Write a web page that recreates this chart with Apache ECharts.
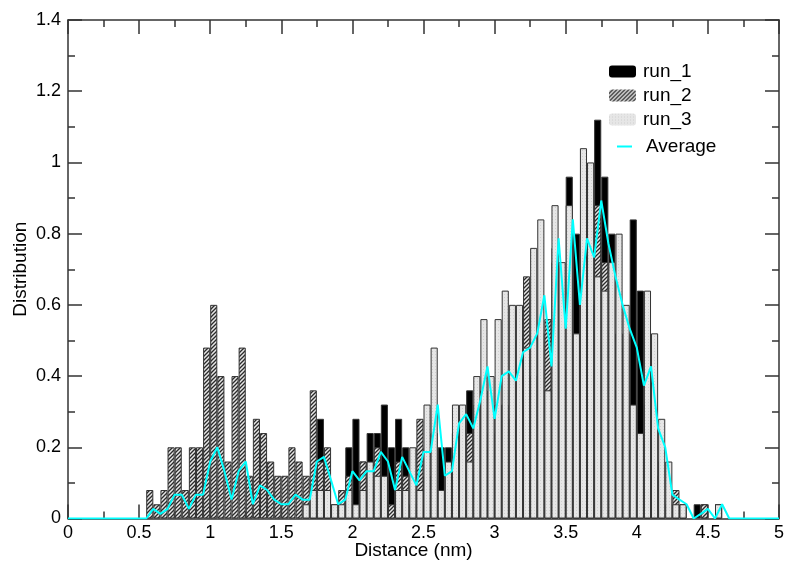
<!DOCTYPE html>
<html>
<head>
<meta charset="utf-8">
<script src="https://cdn.jsdelivr.net/npm/echarts@6/dist/echarts.min.js"></script>
<style>
  html, body { margin: 0; padding: 0; background: #fff; }
  #chart { width: 786px; height: 564px; }
</style>
</head>
<body>
<div id="chart"></div>
<script>
// Histogram bins: bin k covers [k*0.05, (k+1)*0.05], 100 bins from 0 to 5 nm
const binWidth = 0.05;

const run1 = [
  0, 0, 0, 0, 0, 0, 0, 0, 0, 0,
  0, 0, 0, 0, 0, 0, 0, 0, 0, 0,
  0, 0, 0, 0, 0, 0, 0, 0, 0, 0,
  0, 0, 0, 0, 0.04, 0.28, 0.04, 0.04, 0.04, 0.2,
  0.28, 0.16, 0.24, 0.24, 0.32, 0.2, 0.28, 0.2, 0.04, 0.2,
  0.12, 0.24, 0.2, 0.2, 0.24, 0.28, 0.36, 0.32, 0.36, 0.2,
  0.32, 0.28, 0.28, 0.4, 0.28, 0.4, 0.52, 0.36, 0.76, 0.44,
  0.96, 0.8, 0.68, 0.6, 1.12, 0.96, 0.8, 0.52, 0.52, 0.84,
  0.64, 0.32, 0.12, 0.16, 0, 0.04, 0.04, 0, 0.04, 0.04,
  0, 0.04, 0, 0, 0, 0, 0, 0, 0, 0
];

const run2 = [
  0, 0, 0, 0, 0, 0, 0, 0, 0, 0,
  0, 0.08, 0.04, 0.08, 0.2, 0.2, 0.08, 0.2, 0.2, 0.48,
  0.6, 0.4, 0.16, 0.4, 0.48, 0.12, 0.28, 0.24, 0.16, 0.12,
  0.12, 0.2, 0.16, 0.12, 0.36, 0.16, 0.2, 0.04, 0.08, 0.12,
  0, 0.16, 0, 0.2, 0.04, 0.04, 0.16, 0.12, 0.04, 0.28,
  0.12, 0.24, 0.08, 0.04, 0.24, 0.28, 0.24, 0.28, 0.36, 0.24,
  0.32, 0.32, 0.28, 0.4, 0.68, 0.4, 0.52, 0.56, 0.72, 0.44,
  0.68, 0.48, 0.64, 0.6, 0.88, 0.72, 0.52, 0.48, 0.48, 0.28,
  0.24, 0.32, 0.12, 0.16, 0.04, 0.08, 0.04, 0, 0, 0.04,
  0, 0.04, 0, 0, 0, 0, 0, 0, 0, 0
];

const run3 = [
  0, 0, 0, 0, 0, 0, 0, 0, 0, 0,
  0, 0, 0, 0, 0, 0, 0, 0, 0, 0,
  0, 0, 0, 0, 0, 0, 0, 0, 0, 0,
  0, 0, 0, 0.04, 0.08, 0.08, 0.08, 0.04, 0.04, 0.08,
  0.04, 0.08, 0.16, 0.12, 0.12, 0, 0.08, 0.08, 0.2, 0.08,
  0.32, 0.48, 0.08, 0.16, 0.32, 0.32, 0.16, 0.4, 0.56, 0.4,
  0.56, 0.64, 0.6, 0.6, 0.48, 0.76, 0.84, 0.36, 0.88, 0.72,
  0.88, 0.52, 1.04, 1.0, 0.68, 0.64, 0.72, 0.8, 0.6, 0.32,
  0.24, 0.64, 0.52, 0.28, 0.16, 0.04, 0.04, 0, 0, 0,
  0, 0.04, 0, 0, 0, 0, 0, 0, 0, 0
];

// Average curve, one value per bin edge (0, 0.05, ... 5.0)
const average = [
  0, 0, 0, 0, 0, 0, 0, 0, 0, 0,
  0, 0, 0.027, 0.013, 0.027, 0.067, 0.067, 0.027, 0.067, 0.067,
  0.16, 0.2, 0.133, 0.053, 0.133, 0.16, 0.04, 0.093, 0.08, 0.053,
  0.04, 0.04, 0.067, 0.053, 0.053, 0.16, 0.173, 0.107, 0.04, 0.053,
  0.133, 0.107, 0.133, 0.133, 0.187, 0.16, 0.08, 0.173, 0.133, 0.093,
  0.187, 0.187, 0.32, 0.12, 0.133, 0.267, 0.293, 0.253, 0.333, 0.427,
  0.28, 0.4, 0.413, 0.387, 0.467, 0.48, 0.52, 0.627, 0.427, 0.787,
  0.533, 0.84, 0.6, 0.787, 0.733, 0.893, 0.773, 0.68, 0.6, 0.533,
  0.48, 0.373, 0.427, 0.253, 0.2, 0.067, 0.053, 0.04, 0, 0.013,
  0.027, 0, 0.04, 0, 0, 0, 0, 0, 0, 0,
  0
];

const FONT = '"Liberation Sans", Arial, Helvetica, sans-serif';

// fill patterns
const makeHatch = () => {
    const c = document.createElement('canvas');
    c.width = 4; c.height = 4;
    const g = c.getContext('2d');
    g.fillStyle = '#e6e6e6';
    g.fillRect(0, 0, 4, 4);
    g.strokeStyle = '#2a2a2a';
    g.lineWidth = 1.3;
    g.beginPath();
    g.moveTo(-1, 5); g.lineTo(5, -1);
    g.moveTo(-1, 1); g.lineTo(1, -1);
    g.moveTo(3, 5); g.lineTo(5, 3);
    g.stroke();
    return c;
};
const makeDots = () => {
    const c = document.createElement('canvas');
    c.width = 3; c.height = 3;
    const g = c.getContext('2d');
    g.fillStyle = '#e6e6e6';
    g.fillRect(0, 0, 3, 3);
    g.fillStyle = '#d0d0d0';
    g.fillRect(0, 0, 1, 1);
    return c;
};

const binLabels = run1.map((_, i) => (i * binWidth).toFixed(2));
const toBars = arr => arr.map(v => (v > 0 ? v : '-'));

const chart = echarts.init(document.getElementById('chart'));

const axisLineStyle = { color: '#333', width: 1.5 };
const tickCommon = {
    axisLine: { show: true, onZero: false, lineStyle: axisLineStyle },
    axisTick: { show: true, inside: true, length: 14, lineStyle: axisLineStyle },
    minorTick: { show: true, splitNumber: 2, length: 7, lineStyle: axisLineStyle },
    splitLine: { show: false },
    minorSplitLine: { show: false }
};

const barSeries = (name, data, color) => ({
    name: name,
    type: 'bar',
    xAxisIndex: 2,
    data: toBars(data),
    barCategoryGap: '0%',
    barGap: '-100%',
    z: 2,
    itemStyle: { color: color, borderColor: '#333', borderWidth: 1 },
    emphasis: { disabled: true }
});

chart.setOption({
    animation: false,
    grid: { left: 68, top: 20, width: 711, height: 498.5, outerBoundsMode: 'none', containLabel: false },
    legend: [{
        orient: 'vertical',
        left: 609, top: 62, padding: 0,
        itemWidth: 27, itemHeight: 12, itemGap: 5,
        itemStyle: { borderWidth: 0 },
        textStyle: { fontFamily: FONT, fontSize: 19, color: '#000', padding: [0, 0, 0, 2] },
        data: ['run_1', 'run_2', 'run_3']
    }, {
        left: 617, top: 137, padding: 0,
        itemWidth: 15, itemHeight: 2,
        icon: 'rect',
        textStyle: { fontFamily: FONT, fontSize: 19, color: '#000', padding: [0, 0, 0, 9] },
        data: ['Average']
    }],
    xAxis: [Object.assign({
        type: 'value', min: 0, max: 5, interval: 0.5,
        name: 'Distance (nm)', nameLocation: 'middle', nameGap: 23, nameMoveOverlap: false,
        nameTextStyle: { fontFamily: FONT, fontSize: 19, color: '#000', padding: [0, 20, 0, 0] },
        axisLabel: { fontFamily: FONT, fontSize: 18, color: '#000', margin: 6 }
    }, tickCommon), Object.assign({
        type: 'value', min: 0, max: 5, interval: 0.5, position: 'top',
        axisLabel: { show: false }
    }, tickCommon), {
        type: 'category', data: binLabels, boundaryGap: true, show: false
    }],
    yAxis: [Object.assign({
        type: 'value', min: 0, max: 1.4, interval: 0.2,
        name: 'Distribution', nameLocation: 'middle', nameGap: 38, nameMoveOverlap: false,
        nameTextStyle: { fontFamily: FONT, fontSize: 19, color: '#000' },
        axisLabel: { fontFamily: FONT, fontSize: 18, color: '#000', margin: 7 }
    }, tickCommon), Object.assign({
        type: 'value', min: 0, max: 1.4, interval: 0.2, position: 'right',
        axisLabel: { show: false }
    }, tickCommon)],
    series: [
        barSeries('run_1', run1, '#000'),
        barSeries('run_2', run2, { image: makeHatch(), repeat: 'repeat' }),
        barSeries('run_3', run3, { image: makeDots(), repeat: 'repeat' }),
        {
            name: 'Average',
            type: 'line',
            xAxisIndex: 0,
            data: average.map((v, i) => [i * binWidth, v]),
            symbol: 'none',
            z: 5,
            lineStyle: { color: '#00ffff', width: 2 },
            itemStyle: { color: '#00ffff' },
            emphasis: { disabled: true }
        }
    ]
});
</script>
</body>
</html>
